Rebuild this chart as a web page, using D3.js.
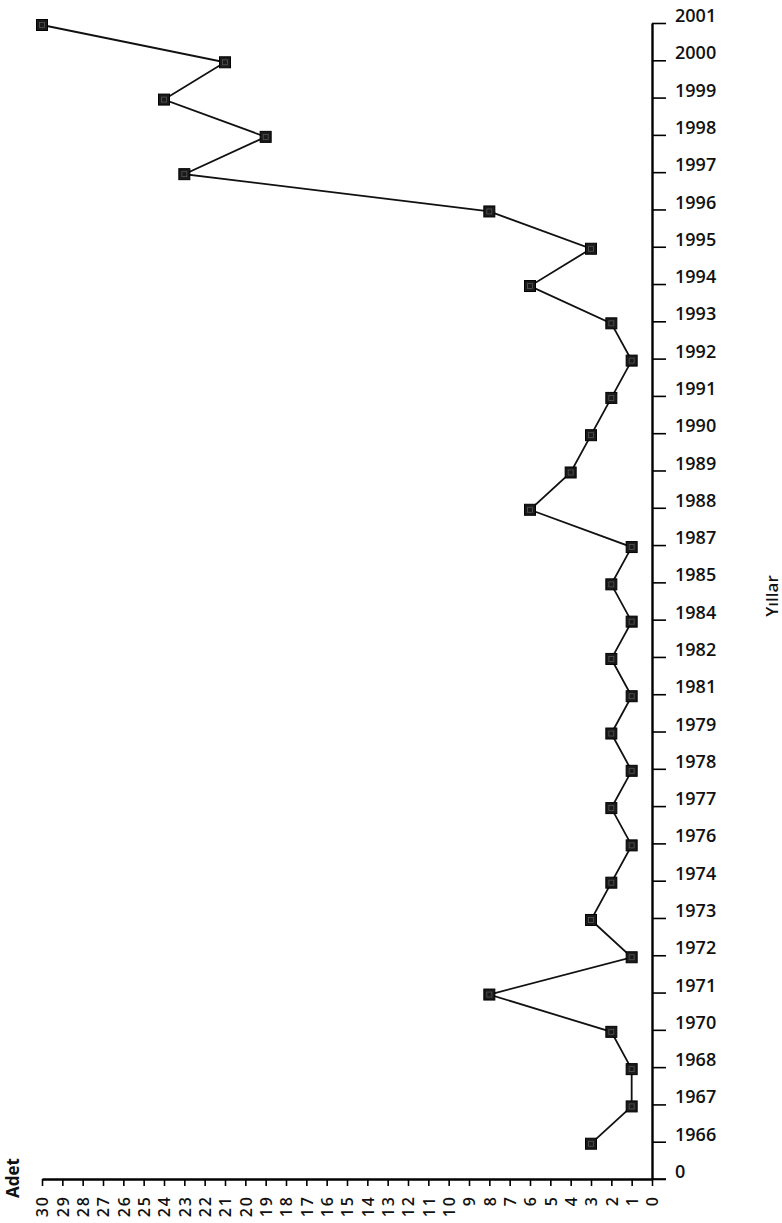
<!DOCTYPE html>
<html>
  <head>
    <meta charset="utf-8" />
    <script src="https://d3js.org/d3.v7.min.js"></script>
    <style>
      body { margin: 0; background: #fff; }
      svg text { fill: #111; }
    </style>
  </head>
  <body>
    <div id="chart"></div>
    <script>
      // tick labels on the year axis (first one is the origin "0")
      const yearTicks = ["0", "1966", "1967", "1968", "1970", "1971", "1972", "1973", "1974", "1976", "1977", "1978",
        "1979", "1981", "1982", "1984", "1985", "1987", "1988", "1989", "1990", "1991", "1992", "1993", "1994",
        "1995", "1996", "1997", "1998", "1999", "2000", "2001"];
      // data series
      const years = ["1966", "1967", "1968", "1970", "1971", "1972", "1973", "1974", "1976", "1977", "1978", "1979",
        "1981", "1982", "1984", "1985", "1987", "1988", "1989", "1990", "1991", "1992", "1993", "1994", "1995",
        "1996", "1997", "1998", "1999", "2000", "2001"];
      const counts = [3, 1, 1, 2, 8, 1, 3, 2, 1, 2, 1, 2, 1, 2, 1, 2, 1, 6, 4, 3, 2, 1, 2, 6, 3, 8, 23, 19, 24, 21, 30];
      const countTicks = d3.range(0, 31);

      const width = 782;
      const height = 1223;
      const axisX = 652;
      const axisY = 1179;
      const font = "'Open Sans', 'Liberation Sans', sans-serif";

      const svg = d3.select("#chart").append("svg").attr("width", width).attr("height", height);

      // value axis runs right to left along the bottom
      const x = d3.scaleLinear().domain([0, 30]).range([axisX, 42]);
      // years run bottom to top along the right
      const y = d3.scalePoint().domain(yearTicks).range([axisY, 23]);

      const bottom = svg
        .append("g")
        .attr("transform", `translate(0,${axisY})`)
        .call(d3.axisBottom(x).tickValues(countTicks).tickSize(7).tickSizeOuter(0).tickFormat(d3.format("d")));
      bottom.select(".domain").attr("stroke-width", 2.4);
      bottom.selectAll(".tick line").attr("stroke-width", 1.6);
      bottom
        .selectAll(".tick text")
        .attr("transform", "rotate(-90)")
        .attr("text-anchor", "end")
        .attr("x", -16)
        .attr("y", 0)
        .attr("dy", "0.36em")
        .style("font-family", font)
        .style("font-weight", 600)
        .style("font-size", "16px")
        .style("letter-spacing", "2px");

      // extend bottom axis a little past the origin
      svg
        .append("line")
        .attr("x1", axisX)
        .attr("x2", axisX + 14)
        .attr("y1", axisY)
        .attr("y2", axisY)
        .attr("stroke", "#000")
        .attr("stroke-width", 1.6);

      const right = svg
        .append("g")
        .attr("transform", `translate(${axisX},0)`)
        .call(d3.axisRight(y).tickSize(14).tickPadding(9).tickSizeOuter(0));
      right.select(".domain").attr("stroke-width", 2.4);
      right.selectAll(".tick line").attr("stroke-width", 1.6);
      right
        .selectAll(".tick text")
        .attr("dy", "-0.08em")
        .style("font-family", font)
        .style("font-weight", 600)
        .style("font-size", "18px");

      // axis titles
      svg
        .append("text")
        .attr("transform", "translate(13,1178) rotate(-90)")
        .attr("text-anchor", "middle")
        .attr("dy", "0.35em")
        .style("font-family", font)
        .style("font-weight", 700)
        .style("font-size", "17px")
        .text("Adet");

      svg
        .append("text")
        .attr("transform", "translate(772,596) rotate(-90)")
        .attr("text-anchor", "middle")
        .attr("dy", "0.35em")
        .style("font-family", font)
        .style("font-weight", 600)
        .style("font-size", "17px")
        .text("Yıllar");

      const points = years.map((yr, i) => ({ year: yr, value: counts[i] }));

      const line = d3
        .line()
        .x((d) => x(d.value))
        .y((d) => y(d.year) + 2);

      svg
        .append("path")
        .datum(points)
        .attr("fill", "none")
        .attr("stroke", "#111")
        .attr("stroke-width", 1.8)
        .attr("d", line);

      const marks = svg
        .selectAll(".mark")
        .data(points)
        .enter()
        .append("g")
        .attr("class", "mark")
        .attr("transform", (d) => `translate(${x(d.value)},${y(d.year) + 2})`);
      marks
        .append("rect")
        .attr("x", -5.5)
        .attr("y", -5.5)
        .attr("width", 11)
        .attr("height", 11)
        .attr("fill", "#1a1a1a")
        .attr("stroke", "#000")
        .attr("stroke-width", 1);
      marks
        .append("rect")
        .attr("x", -2.5)
        .attr("y", -2.5)
        .attr("width", 5)
        .attr("height", 5)
        .attr("fill", "none")
        .attr("stroke", "#555")
        .attr("stroke-width", 0.8);
    </script>
  </body>
</html>
